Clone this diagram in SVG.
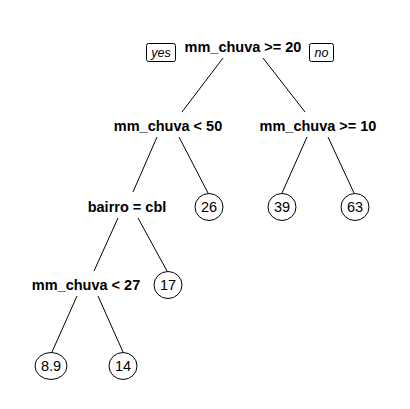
<svg xmlns="http://www.w3.org/2000/svg" width="410" height="409" viewBox="0 0 410 409">
<style>
.lbl{font-family:"Liberation Sans",Arial,sans-serif;font-weight:bold;font-size:14.5px;fill:#000;text-anchor:middle}
.leaf{font-family:"Liberation Sans",Arial,sans-serif;font-size:14.5px;fill:#000;text-anchor:middle}
.tag{font-family:"Liberation Sans",Arial,sans-serif;font-style:italic;font-size:12.5px;fill:#000;text-anchor:middle}
.ell{fill:#fff;stroke:#000;stroke-width:1}
.box{fill:#fff;stroke:#000;stroke-width:1}
.edge{stroke:#000;stroke-width:1;fill:none}
</style>
<rect width="410" height="409" fill="#fff"/>
<g id="connectors">
<line class="edge" x1="223" y1="58" x2="182" y2="112"/>
<line class="edge" x1="263" y1="58" x2="305" y2="112"/>
<line class="edge" x1="157" y1="137" x2="133" y2="192"/>
<line class="edge" x1="179" y1="137" x2="208" y2="193"/>
<line class="edge" x1="307" y1="137" x2="282" y2="193"/>
<line class="edge" x1="328" y1="137" x2="354" y2="193"/>
<line class="edge" x1="118" y1="218" x2="94" y2="271"/>
<line class="edge" x1="138" y1="218" x2="167" y2="271"/>
<line class="edge" x1="77" y1="296" x2="52" y2="352"/>
<line class="edge" x1="98" y1="296" x2="123" y2="352"/>
</g>
<g id="root">
<text class="lbl" x="243" y="52">mm_chuva &gt;= 20</text>
<rect class="box" x="146.5" y="43.5" width="29" height="18" rx="2"/>
<text class="tag" x="161" y="57">yes</text>
<rect class="box" x="309.5" y="43.5" width="24" height="18" rx="2"/>
<text class="tag" x="321.5" y="57">no</text>
</g>
<g id="n_lt50">
<text class="lbl" x="168" y="131">mm_chuva &lt; 50</text>
</g>
<g id="n_ge10">
<text class="lbl" x="318" y="131">mm_chuva &gt;= 10</text>
</g>
<g id="n_bairro">
<text class="lbl" x="127" y="212">bairro = cbl</text>
</g>
<g id="n_lt27">
<text class="lbl" x="86" y="290">mm_chuva &lt; 27</text>
</g>
<g id="leaf_26">
<ellipse class="ell" cx="209" cy="207" rx="14" ry="13.5"/>
<text class="leaf" x="209" y="212">26</text>
</g>
<g id="leaf_39">
<ellipse class="ell" cx="282" cy="207" rx="14" ry="13.5"/>
<text class="leaf" x="282" y="212">39</text>
</g>
<g id="leaf_63">
<ellipse class="ell" cx="355" cy="207" rx="14" ry="13.5"/>
<text class="leaf" x="355" y="212">63</text>
</g>
<g id="leaf_17">
<ellipse class="ell" cx="168" cy="285" rx="14" ry="13.5"/>
<text class="leaf" x="168" y="290">17</text>
</g>
<g id="leaf_8_9">
<ellipse class="ell" cx="51" cy="366" rx="16" ry="13.5"/>
<text class="leaf" x="51" y="371">8.9</text>
</g>
<g id="leaf_14">
<ellipse class="ell" cx="123" cy="366" rx="14" ry="13.5"/>
<text class="leaf" x="123" y="371">14</text>
</g>
</svg>
